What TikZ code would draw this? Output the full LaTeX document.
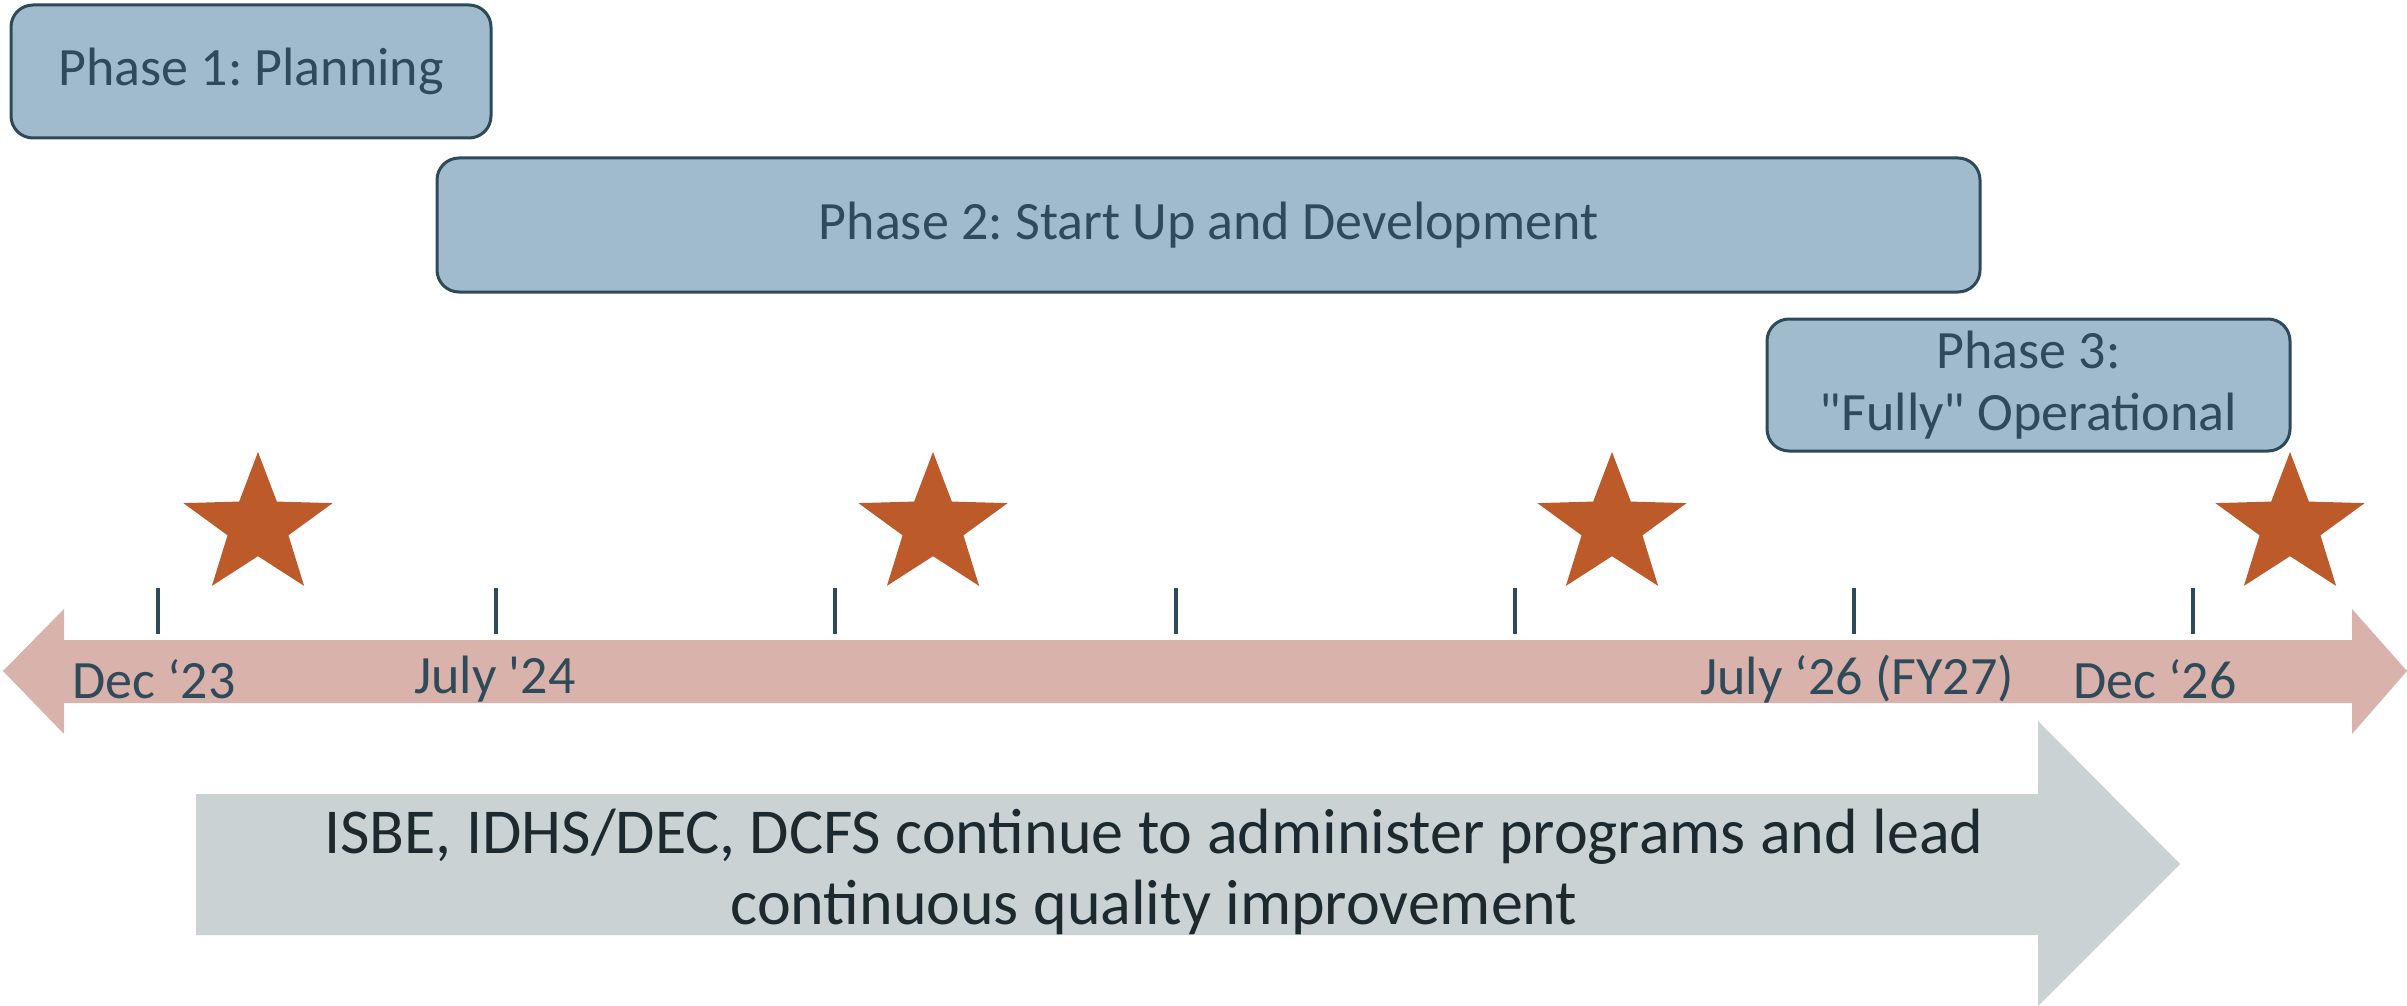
\documentclass[tikz,border=0pt]{standalone}
\usepackage{fontspec}
\setmainfont{Carlito}
\usetikzlibrary{shapes.geometric}
\frenchspacing
\definecolor{boxfill}{HTML}{9FBBCC}
\definecolor{boxline}{HTML}{2E4A5A}
\definecolor{txt}{HTML}{2F4B5A}
\definecolor{pinkar}{HTML}{D9B2AB}
\definecolor{starc}{HTML}{BD5A29}
\definecolor{grayar}{HTML}{CAD2D4}
\definecolor{darktxt}{HTML}{1C2A30}
\newcommand{\dq}{\XeTeXglyph\XeTeXcharglyph"22\relax}
\newcommand{\sq}{\XeTeXglyph\XeTeXcharglyph"27\relax}
\tikzset{
  phasebox/.style={draw=boxline, line width=3pt, fill=boxfill, rounded corners=22pt,
    text=txt, align=center, inner sep=0pt, font=\fontsize{54}{62}\selectfont},
  datelbl/.style={text=txt, inner sep=0pt, font=\fontsize{54}{62}\selectfont},
  tickmark/.style={draw=boxline, line width=3.5pt},
  starmark/.style={star, star points=5, star point ratio=2.45, fill=starc,
    minimum size=148pt, inner sep=0pt, transform shape},
}
\begin{document}
\begin{tikzpicture}[x=1pt, y=-1pt]
\useasboundingbox (0,0) rectangle (2407,1006);
% phase boxes
\node[phasebox, minimum width=480pt, minimum height=133pt] (p1) at (251,71.5) {Phase 1: Planning};
\node[phasebox, minimum width=1543pt, minimum height=134pt] (p2) at (1208.5,225) {Phase 2: Start Up and Development};
\node[phasebox, minimum width=523pt, minimum height=132pt] (p3) at (2028.5,385) {Phase 3:\\\dq Fully\dq{} Operational};
% stars
\foreach \sx [count=\i] in {258,933,1612,2290}{
  \begin{scope}[shift={(\sx,526)}, xscale=1.06]
    \node[starmark] (s\i) at (0,0) {};
  \end{scope}
}
% pink double arrow
\fill[pinkar] (3,671) -- (64,609) -- (64,640) -- (2352,640) -- (2352,609) -- (2407,671)
  -- (2352,734) -- (2352,703) -- (64,703) -- (64,734) -- cycle;
% ticks
\foreach \tx [count=\i] in {158,496,835,1176,1515,1854,2193}{
  \coordinate (t\i a) at (\tx,588);
  \coordinate (t\i b) at (\tx,634);
  \draw[tickmark] (t\i a) -- (t\i b);
}
% date labels
\node[datelbl] (d1) at (154,679) {Dec ‘23};
\node[datelbl] (d2) at (495,679) {July \sq24};
\node[datelbl] (d3) at (1857,679) {July ‘26 (FY27)};
\node[datelbl] (d4) at (2155,679) {Dec ‘26};
% gray arrow
\fill[grayar] (196,794) -- (2038,794) -- (2038,721) -- (2180,864) -- (2038,1006)
  -- (2038,935) -- (196,935) -- cycle;
\node[text=darktxt, align=center, inner sep=0pt, font=\fontsize{64}{71}\selectfont] (g) at (1154,872)
  {ISBE, IDHS/DEC, DCFS continue to administer programs and lead\\continuous quality improvement};
\end{tikzpicture}
\end{document}
